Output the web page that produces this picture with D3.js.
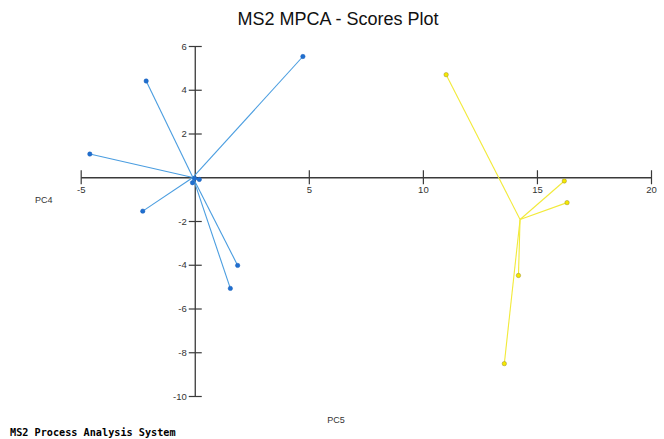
<!DOCTYPE html>
<html>
<head>
<meta charset="utf-8">
<script src="https://cdn.jsdelivr.net/npm/d3@7"></script>
<style>
  html, body { margin: 0; padding: 0; background: #fff; }
  svg { display: block; }
</style>
</head>
<body>
<svg id="chart" width="664" height="439"></svg>
<script>
// ---- data ----
const titleText = "MS2 MPCA - Scores Plot";
const footerText = "MS2 Process Analysis System";
const xLabel = "PC5";
const yLabel = "PC4";
const xTicks = [-5, 5, 10, 15, 20];
const yTicks = [6, 4, 2, -2, -4, -6, -8, -10];
const groupNames = ["Group A", "Group B"];
const groupAX = [4.74, -2.13, -4.6, -2.28, 1.88, 1.56, 0.0, 0.2, -0.1];
const groupAY = [5.52, 4.40, 1.06, -1.55, -4.03, -5.08, -0.05, -0.1, -0.25];
const groupBX = [11.02, 16.2, 16.32, 14.19, 13.57];
const groupBY = [4.69, -0.17, -1.16, -4.49, -8.52];
const lineColors = ["#4a9de0", "#f2ea3a"];
const pointColors = ["#1f6fd0", "#f5e800"];

const groups = [
  {name: groupNames[0], xs: groupAX, ys: groupAY},
  {name: groupNames[1], xs: groupBX, ys: groupBY}
];

// ---- layout ----
const svg = d3.select("#chart");
const x = d3.scaleLinear().domain([-5, 20]).range([80.7, 651]);
const y = d3.scaleLinear().domain([-10, 6]).range([396, 46]);
const axisColor = "#3a3a3a";
const tickFont = "Arial, 'Liberation Sans', sans-serif";
const fmt = d => String(d);

svg.append("rect").attr("width", 664).attr("height", 439).attr("fill", "#fff");

// title
svg.append("text").attr("x", 338).attr("y", 25).attr("text-anchor", "middle")
  .attr("font-family", tickFont).attr("font-size", 18).attr("fill", "#111").text(titleText);

// axes (crossing at origin)
const xAxis = d3.axisBottom(x).tickValues(xTicks).tickSize(0).tickFormat(fmt);
const gx = svg.append("g").attr("transform", `translate(0,${y(0)})`).call(xAxis);
gx.select(".domain").attr("stroke", axisColor).attr("stroke-width", 1.3);
gx.selectAll(".tick text").attr("font-family", tickFont).attr("font-size", 9.5)
  .attr("fill", "#333").attr("dy", "1.35em").attr("y", 3);
gx.selectAll(".tick").append("line").attr("y1", -7).attr("y2", 7)
  .attr("stroke", axisColor).attr("stroke-width", 1.2);

const yAxis = d3.axisLeft(y).tickValues(yTicks).tickSize(0).tickFormat(fmt);
const gy = svg.append("g").attr("transform", `translate(${x(0)},0)`).call(yAxis);
gy.select(".domain").attr("stroke", axisColor).attr("stroke-width", 1.3);
gy.selectAll(".tick text").attr("font-family", tickFont).attr("font-size", 9.5)
  .attr("fill", "#333").attr("x", -8);
gy.selectAll(".tick").append("line").attr("x1", -6).attr("x2", 7)
  .attr("stroke", axisColor).attr("stroke-width", 1.2);

// axis labels
svg.append("text").attr("x", 35).attr("y", 203).attr("font-family", tickFont)
  .attr("font-size", 9).attr("fill", "#333").text(yLabel);
svg.append("text").attr("x", 336).attr("y", 423).attr("text-anchor", "middle")
  .attr("font-family", tickFont).attr("font-size", 9).attr("fill", "#333").text(xLabel);

// star lines from each point to its group centroid, then points
groups.forEach((g, gi) => {
  const pts = g.xs.map((v, i) => ({x: v, y: g.ys[i]}));
  const cx = d3.mean(g.xs), cy = d3.mean(g.ys);
  const layer = svg.append("g");
  layer.selectAll("line.spoke").data(pts).join("line").attr("class", "spoke")
    .attr("x1", x(cx)).attr("y1", y(cy))
    .attr("x2", d => x(d.x)).attr("y2", d => y(d.y))
    .attr("stroke", lineColors[gi]).attr("stroke-width", 1.1);
  layer.selectAll("circle.pt").data(pts).join("circle").attr("class", "pt")
    .attr("cx", d => x(d.x)).attr("cy", d => y(d.y)).attr("r", 2.2)
    .attr("fill", pointColors[gi])
    .attr("stroke", gi === 1 ? "#9a8d30" : "#1a5fb8").attr("stroke-width", 0.5);
});

// footer
svg.append("text").attr("x", 10).attr("y", 436)
  .attr("font-family", "'DejaVu Sans Mono', 'Liberation Mono', monospace")
  .attr("font-weight", "bold").attr("font-size", 10.2).attr("fill", "#000").text(footerText);
</script>
</body>
</html>
